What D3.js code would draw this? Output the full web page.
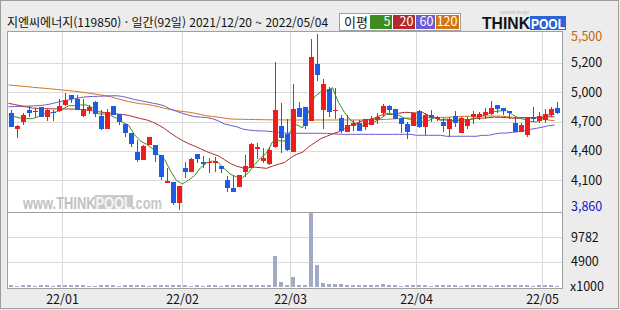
<!DOCTYPE html>
<html lang="ko">
<head>
<meta charset="utf-8">
<title>지엔씨에너지 일간 차트</title>
<script src="https://cdn.jsdelivr.net/npm/d3@7"></script>
<style>
	html, body { margin: 0; padding: 0; background: #ececec; }
	#chart { width: 620px; height: 310px; }
	#chart text { font-family: 'Noto Sans CJK KR', 'Noto Sans', sans-serif; }
</style>
</head>
<body>
<div id="chart"></div>
<script>
// ─── Data (daily, 2021/12/20 ~ 2022/05/04, prices in KRW, volume x1000) ────
var DATES = [
	'211220','211221','211222','211223','211224','211227','211228','211229','211230',
	'220103','220104','220105','220106','220107','220110','220111','220112','220113','220114',
	'220117','220118','220119','220120','220121','220124','220125','220126','220127','220128',
	'220203','220204','220207','220208','220209','220210','220211','220214','220215','220216',
	'220217','220218','220221','220222','220223','220224','220225','220228',
	'220302','220303','220304','220307','220308','220310','220311','220314','220315','220316',
	'220317','220318','220321','220322','220323','220324','220325','220328','220329','220330','220331',
	'220401','220404','220405','220406','220407','220408','220411','220412','220413','220414',
	'220415','220418','220419','220420','220421','220422','220425','220426','220427','220428','220429',
	'220502','220503','220504'
];

var OPEN = [
	4767,4611,4683,4788,4785,4816,4729,4776,4785,4835, 4928,4894,4736,4792,4869,4739,4618,4826,4757,4661,
	4577,4403,4326,4465,4465,4372,4114,4124,3922,4254, 4217,4382,4304,4295,4295,4270,4139,4065,4077,4217,
	4254,4425,4319,4288,4450,4639,4568,4403,4807,4816, 4692,5220,4792,4990,4779,4714,4590,4642,4674,4636,
	4652,4699,4761,4829,4798,4720,4661,4646,4782,4636, 4745,4705,4683,4612,4736,4581,4646,4723,4723,4745,
	4751,4838,4807,4782,4668,4584,4559,4723,4689,4699, 4745,4813
];
var HIGH = [
	4792,4652,4760,4829,4807,4823,4798,4792,4894,4953, 4928,4928,4894,4835,4879,4792,4804,4826,4757,4661,
	4577,4512,4465,4543,4465,4372,4248,4124,4083,4310, 4341,4382,4363,4341,4357,4270,4180,4180,4189,4369,
	4481,4487,4434,4434,5236,4860,4705,5034,4869,4816, 5450,5500,5077,5009,4993,4745,4745,4698,4698,4705,
	4736,4767,4848,4838,4798,4720,4683,4767,4792,4767, 4792,4736,4720,4730,4782,4723,4723,4782,4770,4807,
	4876,4838,4807,4782,4723,4674,4730,4823,4776,4801, 4823,4870
];
var LOW = [
	4630,4528,4652,4723,4723,4723,4692,4692,4776,4829, 4860,4792,4729,4751,4723,4605,4618,4748,4652,4537,
	4450,4310,4326,4465,4310,4139,4114,3906,3860,4155, 4217,4295,4248,4201,4217,4201,4031,4031,4077,4170,
	4248,4332,4301,4279,4434,4394,4413,4403,4723,4611, 4692,5065,4611,4723,4705,4574,4590,4599,4599,4605,
	4652,4658,4736,4761,4705,4581,4522,4646,4621,4559, 4683,4692,4590,4543,4630,4581,4615,4658,4699,4705,
	4745,4761,4745,4705,4584,4584,4543,4683,4668,4668, 4730,4751
];
var CLOSE = [
	4636,4642,4742,4767,4770,4729,4788,4764,4829,4882, 4894,4792,4798,4823,4751,4615,4776,4748,4683,4574,
	4472,4326,4456,4537,4372,4164,4130,3922,4083,4217, 4338,4338,4288,4307,4313,4245,4068,4031,4189,4270,
	4475,4447,4341,4419,4792,4534,4419,4801,4729,4642, 5282,5118,5031,4776,4788,4596,4652,4670,4599,4705,
	4705,4723,4829,4792,4705,4664,4590,4767,4636,4745, 4720,4730,4646,4705,4668,4714,4698,4754,4754,4770,
	4807,4801,4786,4767,4584,4652,4723,4705,4736,4751, 4801,4761
];
var VOLUME = [
	210,190,230,200,180,220,200,190,240,260, 210,230,200,190,180,220,250,200,190,210,
	230,260,200,190,220,240,200,250,270,210, 190,200,180,210,200,190,220,230,200,210,
	240,220,200,230,6088,932,337,1923,337,337, 14673,4300,730,530,400,400,250,220,210,200,
	200,210,420,240,200,190,210,200,220,200, 190,200,210,230,200,190,200,210,220,200,
	190,210,200,220,230,210,200,190,200,210, 200,190
];

var MA5 = [
	4745,4730,4716,4712,4711,4730,4759,4764,4776,4798, 4831,4832,4839,4838,4812,4756,4753,4743,4715,4679,
	4651,4561,4502,4473,4433,4371,4332,4225,4134,4103, 4138,4180,4253,4298,4317,4298,4244,4193,4169,4161,
	4207,4282,4344,4390,4495,4507,4501,4593,4655,4625, 4775,4914,4960,4970,4999,4862,4769,4696,4661,4644,
	4666,4680,4712,4751,4751,4743,4716,4704,4672,4680, 4692,4720,4695,4709,4694,4693,4686,4708,4718,4738,
	4757,4777,4784,4786,4749,4718,4702,4686,4680,4713, 4743,4751
];
var MA20 = [
	4854,4843,4832,4820,4810,4806,4804,4803,4802,4802, 4801,4800,4796,4790,4784,4776,4768,4761,4755,4750,
	4742,4726,4712,4700,4680,4652,4619,4577,4540,4507, 4479,4456,4431,4405,4383,4364,4329,4293,4269,4253,
	4253,4260,4254,4248,4269,4287,4302,4346,4378,4399, 4447,4486,4523,4546,4570,4587,4617,4649,4669,4691,
	4702,4716,4741,4759,4755,4761,4770,4768,4764,4769, 4741,4721,4702,4698,4692,4698,4701,4705,4713,4716,
	4721,4725,4723,4721,4715,4715,4721,4718,4723,4724, 4728,4729
];
var MA60 = [
	4822,4824,4826,4828,4830,4832,4838,4848,4862,4875, 4885,4898,4908,4915,4918,4920,4922,4924,4925,4918,
	4905,4890,4878,4868,4856,4845,4830,4800,4780,4760, 4745,4730,4726,4722,4710,4690,4662,4648,4636,4615,
	4605,4600,4597,4595,4590,4584,4578,4576,4575,4575, 4575,4575,4575,4574,4570,4567,4565,4565,4565,4565,
	4565,4565,4565,4565,4565,4565,4565,4565,4556,4556, 4556,4556,4556,4547,4547,4547,4547,4547,4547,4556,
	4556,4568,4577,4577,4584,4590,4600,4612,4621,4632, 4646,4652
];
var MA120 = [
	5025,5020,5015,5010,5004,4999,4994,4989,4984,4978, 4973,4967,4960,4952,4944,4936,4926,4916,4900,4885,
	4870,4860,4850,4845,4835,4822,4808,4796,4786,4778, 4772,4762,4750,4738,4732,4725,4716,4708,4706,4705,
	4704,4703,4702,4701,4700,4700,4699,4699,4699,4699, 4699,4699,4699,4699,4699,4699,4699,4699,4699,4699,
	4699,4700,4702,4705,4708,4712,4715,4717,4718,4719, 4720,4721,4722,4724,4727,4730,4732,4734,4735,4736,
	4736,4736,4735,4730,4724,4721,4720,4720,4718,4710, 4698,4692
];

var PRICE_TICKS        = [ 5227, 4953, 4680, 4407, 4133 ];
var PRICE_TICK_LABELS  = [ '5,200', '5,000', '4,700', '4,400', '4,100' ];
var VOLUME_TICKS       = [ 9782, 4891 ];
var VOLUME_TICK_LABELS = [ '9782', '4900' ];
var MONTH_STARTS       = [ '220103', '220203', '220302', '220401', '220502' ];
var MONTH_LABELS       = [ '22/01', '22/02', '22/03', '22/04', '22/05' ];

var TITLE      = '지엔씨에너지(119850) · 일간(92일) 2021/12/20 ~ 2022/05/04';
var WATERMARK  = 'www.THINKPOOL.com';
var MA_LEGEND  = [ { label: '5', key: 'ma5' }, { label: '20', key: 'ma20' }, { label: '60', key: 'ma60' }, { label: '120', key: 'ma120' } ];

( function () {
	'use strict';

	var COLORS = {
		bg:       '#ececec',
		frame:    '#9c9c9c',
		border:   '#a0a0a0',
		grid:     '#dadada',
		up:       '#f01c1c',
		down:     '#1e5ce6',
		ma5:      '#3c8c1e',
		ma20:     '#b42a2a',
		ma60:     '#6a5ad8',
		ma120:    '#d47414',
		volume:   '#a2aac4',
		text:     '#111111',
		maxLabel: '#c86400',
		minLabel: '#1414c8'
	};

	var W = 620, H = 310;
	var P = { left: 7.5, right: 562.5, top: 31.5, split: 212.5, bottom: 288.5 };
	var n = DATES.length;

	var svg = d3.select( '#chart' ).append( 'svg' )
		.attr( 'width', W )
		.attr( 'height', H )
		.attr( 'viewBox', '0 0 ' + W + ' ' + H );

	// Scales: one 6px slot per trading day, index based.
	var x  = d3.scaleLinear().domain( [ 0, n ] ).range( [ 8.5, 8.5 + 6 * n ] );
	var yP = d3.scaleLinear().domain( [ d3.min( LOW ), d3.max( HIGH ) ] ).range( [ 210, 34 ] );
	var yV = d3.scaleLinear().domain( [ 0, d3.max( VOLUME ) ] ).range( [ 286.5, 213 ] );

	// Frame + plot background.
	svg.append( 'rect' )
		.attr( 'x', 0.5 ).attr( 'y', 0.5 ).attr( 'width', W - 2 ).attr( 'height', H - 2 )
		.attr( 'fill', COLORS.bg ).attr( 'stroke', COLORS.frame );
	svg.append( 'rect' )
		.attr( 'x', P.left ).attr( 'y', P.top )
		.attr( 'width', P.right - P.left ).attr( 'height', P.bottom - P.top )
		.attr( 'fill', '#fff' );

	function styleAxis( s ) {
		s.select( '.domain' ).remove();
		s.attr( 'font-size', null ).attr( 'font-family', null );
		s.selectAll( 'line' ).attr( 'stroke', COLORS.grid ).attr( 'shape-rendering', 'crispEdges' );
		s.selectAll( 'text' ).attr( 'fill', COLORS.text ).style( 'font-size', '12.5px' );
	}

	// Month grid + labels.
	var monthIdx = MONTH_STARTS.map( function ( d ) { return DATES.indexOf( d ); } );
	svg.append( 'g' )
		.attr( 'transform', 'translate(0,' + P.bottom + ')' )
		.call(
			d3.axisBottom( x )
				.offset( 0 )
				.tickValues( monthIdx )
				.tickSize( -( P.bottom - P.top ) )
				.tickPadding( 7 )
				.tickFormat( function ( d, i ) { return MONTH_LABELS[ i ]; } )
		)
		.call( styleAxis );

	// Price grid + labels.
	svg.append( 'g' )
		.attr( 'transform', 'translate(' + ( P.right - 0.5 ) + ',0)' )
		.call(
			d3.axisRight( yP )
				.offset( 0 )
				.tickValues( PRICE_TICKS )
				.tickSize( -( P.right - P.left ) )
				.tickPadding( 9 )
				.tickFormat( function ( d, i ) { return PRICE_TICK_LABELS[ i ]; } )
		)
		.call( styleAxis );

	// Volume grid + labels.
	svg.append( 'g' )
		.attr( 'transform', 'translate(' + ( P.right - 0.5 ) + ',0)' )
		.call(
			d3.axisRight( yV )
				.offset( 0 )
				.tickValues( VOLUME_TICKS )
				.tickSize( -( P.right - P.left ) )
				.tickPadding( 9 )
				.tickFormat( function ( d, i ) { return VOLUME_TICK_LABELS[ i ]; } )
		)
		.call( styleAxis );

	var fmt = d3.format( ',' );
	var rl = svg.append( 'g' ).style( 'font-size', '12.5px' );
	rl.append( 'text' ).attr( 'x', 571 ).attr( 'y', yP( d3.max( HIGH ) ) + 3 ).attr( 'dy', '0.35em' )
		.attr( 'fill', COLORS.maxLabel ).text( fmt( d3.max( HIGH ) ) );
	rl.append( 'text' ).attr( 'x', 571 ).attr( 'y', yP( d3.min( LOW ) ) - 3 ).attr( 'dy', '0.35em' )
		.attr( 'fill', COLORS.minLabel ).text( fmt( d3.min( LOW ) ) );
	rl.append( 'text' ).attr( 'x', 570 ).attr( 'y', yV( 0 ) ).attr( 'dy', '0.35em' )
		.attr( 'fill', COLORS.text ).text( 'x1000' );

	// Watermark: a single text run; "POOL" sits light on a grey plate (hard-stop gradient fill).
	var grad = svg.append( 'defs' ).append( 'linearGradient' )
		.attr( 'id', 'wm-fill' )
		.attr( 'gradientUnits', 'userSpaceOnUse' )
		.attr( 'x1', 23 ).attr( 'x2', 162 ).attr( 'y1', 0 ).attr( 'y2', 0 );
	var wm = svg.append( 'g' );
	var plate = wm.append( 'rect' ).attr( 'fill', '#cacaca' );
	var wmText = wm.append( 'text' )
		.attr( 'x', 23 ).attr( 'y', 209 )
		.attr( 'textLength', 139 ).attr( 'lengthAdjust', 'spacingAndGlyphs' )
		.attr( 'fill', 'url(#wm-fill)' )
		.style( 'font-family', 'Liberation Sans, Arial, sans-serif' )
		.style( 'font-size', '17px' )
		.style( 'font-weight', 'bold' )
		.text( WATERMARK );
	var node = wmText.node();
	var p0 = node.getStartPositionOfChar( 9 ).x, p1 = node.getEndPositionOfChar( 12 ).x;
	plate.attr( 'x', p0 - 1 ).attr( 'y', 195 ).attr( 'width', p1 - p0 + 2 ).attr( 'height', 14 );
	var o0 = ( p0 - 23 ) / 139, o1 = ( p1 - 23 ) / 139;
	[ [ 0, '#c0c0c0' ], [ o0, '#c0c0c0' ], [ o0, '#f6f6f6' ], [ o1, '#f6f6f6' ], [ o1, '#c6c6c6' ], [ 1, '#c6c6c6' ] ]
		.forEach( function ( s ) {
			grad.append( 'stop' ).attr( 'offset', s[ 0 ] ).attr( 'stop-color', s[ 1 ] );
		} );

	// Moving averages.
	var line = d3.line()
		.x( function ( d, i ) { return x( i ); } )
		.y( function ( d ) { return yP( d ); } );
	[ [ MA120, COLORS.ma120 ], [ MA60, COLORS.ma60 ], [ MA20, COLORS.ma20 ], [ MA5, COLORS.ma5 ] ].forEach( function ( m ) {
		svg.append( 'path' )
			.datum( m[ 0 ] )
			.attr( 'fill', 'none' )
			.attr( 'stroke', m[ 1 ] )
			.attr( 'stroke-width', 1 )
			.attr( 'd', line );
	} );

	// Candles.
	var idx = d3.range( n );
	function candleColor( i ) { return CLOSE[ i ] >= OPEN[ i ] ? COLORS.up : COLORS.down; }
	var cg = svg.append( 'g' ).attr( 'shape-rendering', 'crispEdges' );
	cg.selectAll( 'line' )
		.data( idx )
		.join( 'line' )
		.attr( 'x1', function ( i ) { return x( i + 0.5 ); } )
		.attr( 'x2', function ( i ) { return x( i + 0.5 ); } )
		.attr( 'y1', function ( i ) { return yP( HIGH[ i ] ); } )
		.attr( 'y2', function ( i ) { return yP( LOW[ i ] ); } )
		.attr( 'stroke', candleColor );
	cg.selectAll( 'rect' )
		.data( idx )
		.join( 'rect' )
		.attr( 'x', function ( i ) { return x( i ) + 0.5; } )
		.attr( 'width', 5 )
		.attr( 'y', function ( i ) { return yP( Math.max( OPEN[ i ], CLOSE[ i ] ) ); } )
		.attr( 'height', function ( i ) {
			return Math.max( 1, yP( Math.min( OPEN[ i ], CLOSE[ i ] ) ) - yP( Math.max( OPEN[ i ], CLOSE[ i ] ) ) );
		} )
		.attr( 'fill', candleColor );

	// Volume.
	svg.append( 'g' ).attr( 'shape-rendering', 'crispEdges' )
		.selectAll( 'rect' )
		.data( VOLUME )
		.join( 'rect' )
		.attr( 'x', function ( d, i ) { return x( i ) + 0.5; } )
		.attr( 'width', 4 )
		.attr( 'y', function ( d ) { return Math.min( yV( d ), yV( 0 ) - 1 ); } )
		.attr( 'height', function ( d ) { return Math.max( 1, yV( 0 ) - yV( d ) ); } )
		.attr( 'fill', COLORS.volume );

	// Panel borders.
	svg.append( 'rect' )
		.attr( 'x', P.left ).attr( 'y', P.top )
		.attr( 'width', P.right - P.left ).attr( 'height', P.bottom - P.top )
		.attr( 'fill', 'none' ).attr( 'stroke', COLORS.border );
	svg.append( 'line' )
		.attr( 'x1', P.left ).attr( 'x2', P.right ).attr( 'y1', P.split ).attr( 'y2', P.split )
		.attr( 'stroke', COLORS.border );

	// Title.
	svg.append( 'text' )
		.attr( 'x', 7 ).attr( 'y', 27 )
		.attr( 'fill', COLORS.text )
		.style( 'font-size', '12px' )
		.text( TITLE );

	// MA legend.
	var lg = svg.append( 'g' );
	lg.append( 'rect' ).attr( 'x', 339.5 ).attr( 'y', 13.5 ).attr( 'width', 121 ).attr( 'height', 17 )
		.attr( 'fill', '#fff' ).attr( 'stroke', COLORS.border );
	lg.append( 'text' ).attr( 'x', 344 ).attr( 'y', 22 ).attr( 'dy', '0.35em' )
		.attr( 'fill', COLORS.text ).style( 'font-size', '13px' ).text( '이평' );
	var boxes = [ { x: 370, w: 22 }, { x: 393, w: 22 }, { x: 416, w: 19 }, { x: 436, w: 23 } ];
	var items = lg.selectAll( 'g.item' ).data( MA_LEGEND ).join( 'g' ).attr( 'class', 'item' );
	items.append( 'rect' )
		.attr( 'x', function ( d, i ) { return boxes[ i ].x; } )
		.attr( 'y', 15 )
		.attr( 'width', function ( d, i ) { return boxes[ i ].w; } )
		.attr( 'height', 14 )
		.attr( 'fill', function ( d ) { return COLORS[ d.key ]; } );
	items.append( 'text' )
		.attr( 'x', function ( d, i ) { return boxes[ i ].x + boxes[ i ].w - 1.5; } )
		.attr( 'y', 22 )
		.attr( 'dy', '0.35em' )
		.attr( 'text-anchor', 'end' )
		.attr( 'fill', '#fff' )
		.style( 'font-size', '12.5px' )
		.text( function ( d ) { return d.label; } );

	// Logo.
	var logo = svg.append( 'g' );
	logo.append( 'text' ).attr( 'x', 482 ).attr( 'y', 29 ).attr( 'fill', '#141414' )
		.attr( 'textLength', 48 ).attr( 'lengthAdjust', 'spacingAndGlyphs' )
		.style( 'font-family', 'Liberation Sans, Arial, sans-serif' )
		.style( 'font-size', '17px' ).style( 'font-weight', 'bold' ).text( 'THINK' );
	logo.append( 'rect' ).attr( 'x', 530 ).attr( 'y', 16 ).attr( 'width', 36 ).attr( 'height', 14 ).attr( 'fill', '#2a64d6' );
	logo.append( 'text' ).attr( 'x', 531 ).attr( 'y', 28.5 ).attr( 'fill', '#fff' )
		.attr( 'textLength', 34 ).attr( 'lengthAdjust', 'spacingAndGlyphs' )
		.style( 'font-family', 'Liberation Sans, Arial, sans-serif' )
		.style( 'font-size', '15px' ).style( 'font-weight', 'bold' ).text( 'POOL' );
	logo.append( 'text' ).attr( 'x', 500 ).attr( 'y', 14 ).attr( 'fill', '#b4b4b4' )
		.style( 'font-size', '4px' ).text( 'network design' );
} )();
</script>
</body>
</html>
